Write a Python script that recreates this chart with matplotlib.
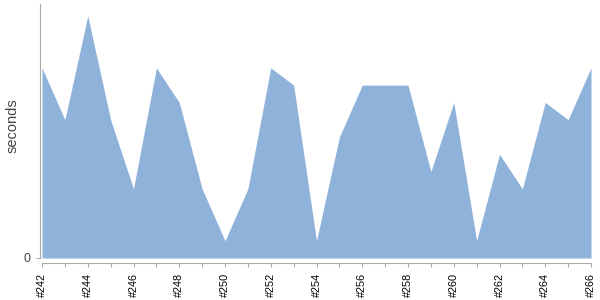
import matplotlib
matplotlib.use('Agg')
import matplotlib.pyplot as plt

plt.rcParams['font.family'] = ['Liberation Sans', 'DejaVu Sans']

# build numbers and durations (seconds)
builds = list(range(242, 267))
seconds = [11, 8, 14, 8, 4, 11, 9, 4, 1, 4, 11, 10, 1, 7, 10, 10, 10, 5, 9, 1, 6, 4, 9, 8, 11]
labels = ['#%d' % b for b in builds]

fig = plt.figure(figsize=(6, 3), dpi=100)
ax = fig.add_axes([0.07, 0.14, 0.915, 0.847])

# spine offsets first: set_position resets the ticks
for side in ['top', 'right']:
    ax.spines[side].set_visible(False)
ax.spines['left'].set_color('#aaaaaa')
ax.spines['bottom'].set_color('#aaaaaa')
ax.spines['left'].set_position(('outward', 1.5))
ax.spines['bottom'].set_position(('outward', 3.6))

x = list(range(len(builds)))
ax.fill_between(x, seconds, 0, color='#8fb2db', linewidth=0)

ax.set_xlim(0, len(builds) - 1)
ax.set_ylim(0, 14.7)

ax.set_xticks(x)
ax.set_xticklabels([l if i % 2 == 0 else '' for i, l in enumerate(labels)],
                   rotation=90, fontsize=7.8, color='black')
ax.set_yticks([0])
ax.set_yticklabels(['0'], fontsize=9, color='#444444')
ax.set_ylabel('seconds', fontsize=10.5, color='#444444', labelpad=2.5)
ax.yaxis.label.set_y(0.52)

ax.tick_params(axis='x', length=3, color='#aaaaaa', pad=4)
ax.tick_params(axis='y', length=3, color='#aaaaaa', pad=4)

fig.savefig('out.png', dpi=100)
